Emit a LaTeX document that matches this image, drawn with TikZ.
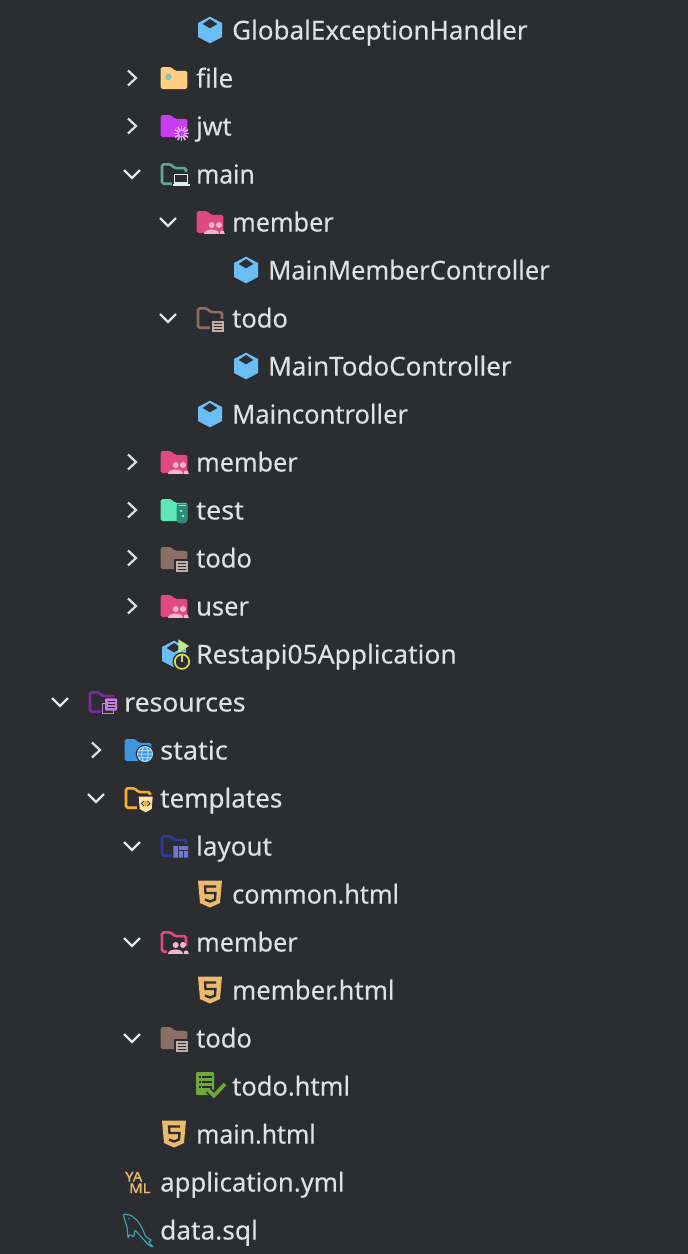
\documentclass[tikz,border=0pt]{standalone}
\usepackage{fontspec}
\setmainfont{Noto Sans}
\newfontfamily\rowfont[FakeBold=0.12]{Noto Sans}
\newfontfamily\yamlfont[FakeBold=0.9]{Noto Sans}
\definecolor{panelbg}{HTML}{2B2D30}
\definecolor{rowtxt}{HTML}{DFE1E5}
\definecolor{cubeblue}{HTML}{6BBEF5}
\definecolor{htmlgold}{HTML}{EDB96A}
\definecolor{memberpink}{HTML}{E0497F}
\definecolor{memberlight}{HTML}{F5B5CC}
\definecolor{todobrown}{HTML}{8B6F65}
\definecolor{todolight}{HTML}{BDAEA6}
\tikzset{
  rowtext/.style={anchor=base west,inner sep=0pt,text=rowtxt,transform shape,font=\fontsize{26}{30}\rowfont},
  yamltext/.style={anchor=base west,inner sep=0pt,text=htmlgold,xscale=1.1,transform shape,font=\fontsize{13.5}{14}\yamlfont},
  folderfull/.pic={
    \fill[rounded corners=1.6pt] (-13.3,-11)--(-3,-11)--(1,-7.2)--(13.3,-7.2)--(13.3,11)--(-13.3,11)--cycle;},
  folderline/.pic={
    \draw[line width=2.6pt,rounded corners=1.6pt] (-12,-9.7)--(-3.4,-9.7)--(0.6,-5.9)--(12,-5.9)--(12,9.7)--(-12,9.7)--cycle;},
  people/.pic={
    \fill[memberlight] (1.7,3) circle (3) (9,3) circle (3);
    \fill[memberlight] (-6,11.8) .. controls (-6,5.5) and (8.8,5.5) .. (8.8,11.8) -- cycle;
    \fill[memberlight] (9.5,11.8) .. controls (9.5,7.5) and (14.5,7) .. (14.8,11.8) -- cycle;},
  notes/.pic={
    \fill[panelbg] (0.4,1.4) rectangle (15,15);
    \fill[todolight] (1.7,2.7) rectangle (14,14.3);
    \foreach \i in {5.2,8.4,11.6} \draw[panelbg,line width=1.2pt] (4,\i)--(11.8,\i);},
  cube/.pic={
    \fill[cubeblue] (0,-13.3)--(12,-7)--(12,7)--(0,13.3)--(-12,7)--(-12,-7)--cycle;
    \fill[panelbg] (0,-11)--(7.3,-6)--(0,-1.7)--(-7.3,-6)--cycle;},
  shield/.pic={
    \fill[htmlgold] (-12,-13.5)--(12,-13.5)--(10,9)--(0,13.5)--(-10,9)--cycle;
    \draw[panelbg,line width=2.3pt] (6,-7.5)--(-5,-7.5)--(-4.5,-1)--(5.5,-1)--(5,5.5)--(0,7.5)--(-5,5.5);},
}
\begin{document}
\begin{tikzpicture}[x=1pt,y=-1pt]
\useasboundingbox (0,0) rectangle (688,1254);
\fill[panelbg] (0,0) rectangle (688,1254);
\foreach \x/\y in {132/78,132/126,132/462,132/510,132/558,132/606,96/750}
  \draw[rowtxt,line width=2.2pt] (\x-4,\y-7.5)--(\x+4,\y)--(\x-4,\y+7.5);
\foreach \x/\y in {132/174,168/222,168/318,60/702,96/798,132/846,132/942,132/1038}
  \draw[rowtxt,line width=2.2pt] (\x-8,\y-4)--(\x,\y+4)--(\x+8,\y-4);
\pic at (210,30) {cube};
\pic at (246,270) {cube};
\pic at (246,366) {cube};
\pic at (210,414) {cube};
\pic at (174,654) {cube};
\pic at (210,894) {shield};
\pic at (210,990) {shield};
\pic at (174,1134) {shield};
\pic[color=memberpink] at (210,222) {folderfull};
\pic at (210,222) {people};
\pic[color=memberpink] at (174,462) {folderfull};
\pic at (174,462) {people};
\pic[color=memberpink] at (174,606) {folderfull};
\pic at (174,606) {people};
\pic[color=memberpink] at (174,942) {folderline};
\fill[panelbg] (167,946) rectangle (190,954.5);
\pic at (174,942) {people};
\pic[color=todobrown] at (210,318) {folderline};
\pic at (210,318) {notes};
\pic[color=todobrown] at (174,558) {folderfull};
\pic at (174,558) {notes};
\pic[color=todobrown] at (174,1038) {folderfull};
\pic at (174,1038) {notes};
% file
\pic[color={rgb,255:red,255;green,207;blue,127}] at (174,78) {folderfull};
\fill[color={rgb,255:red,127;green,196;blue,190}] (168.5,77) circle (3.2);
% jwt
\pic[color={rgb,255:red,200;green,60;blue,242}] at (174,126) {folderfull};
\foreach \a in {0,30,...,330} \draw[line width=1.6pt,color={rgb,255:red,233;green,179;blue,245}] (181.5,133.5)++(\a:2.5)--++(\a:5);
\fill[color={rgb,255:red,200;green,60;blue,242}] (181.5,133.5) circle (2.3);
% main
\pic[color={rgb,255:red,95;green,167;blue,158}] at (174,174) {folderline};
\fill[panelbg] (172,172) rectangle (191,190);
\draw[line width=1.1pt,color={rgb,255:red,223;green,242;blue,238}] (174.5,174.5) rectangle (187.5,183);
\fill[color={rgb,255:red,223;green,242;blue,238}] (172.5,184) rectangle (190,186);
% test
\pic[color={rgb,255:red,94;green,232;blue,181}] at (174,510) {folderfull};
\fill[color={rgb,255:red,46;green,140;blue,120},rounded corners=3.5pt] (176.7,503.5)--(187.3,503.5)--(187.3,523.3)--(176.7,523.3)--cycle;
\fill[color={rgb,255:red,46;green,140;blue,120}] (176.7,503.5) rectangle (187.3,507);
\fill[color={rgb,255:red,150;green,240;blue,205}] (178.5,505) rectangle (185.5,506.2);
\fill[color={rgb,255:red,150;green,240;blue,205}] (181,511) circle (1.3) (183,516) circle (1.3);
% restapi badges
\fill[color={rgb,255:red,201;green,232;blue,142}] (178.3,639.3)--(189,646)--(178.3,652.7)--cycle;
\fill[panelbg] (182,661.7) circle (9.5);
\draw[line width=1.7pt,color={rgb,255:red,214;green,222;blue,76}] (182,661.7) circle (7.2);
\draw[line width=1.7pt,color={rgb,255:red,214;green,222;blue,76}] (182,653.5)--(182,661.5);
% resources
\pic[color={rgb,255:red,123;green,42;blue,158}] at (102,702) {folderline};
\fill[panelbg] (100.5,697) rectangle (118,716);
\draw[line width=1pt,color={rgb,255:red,192;green,127;blue,216}] (102.5,703.5) rectangle (113.5,713.5);
\fill[color={rgb,255:red,192;green,127;blue,216},rounded corners=1pt] (105,698.3) rectangle (117,710.7);
\foreach \i in {701.5,704.5,707.5} \draw[panelbg,line width=1pt] (107.5,\i)--(114.5,\i);
% static
\pic[color={rgb,255:red,63;green,150;blue,224}] at (138,750) {folderfull};
\fill[panelbg] (145,754) circle (9.3);
\fill[color={rgb,255:red,63;green,150;blue,224}] (145,754) circle (7.5);
\draw[line width=1pt,color={rgb,255:red,168;green,216;blue,248}] (145,754) circle (7.5) (145,754) ellipse (3.2 and 7.5) (137.5,754)--(152.5,754) (138.5,750.5)--(151.5,750.5) (138.5,757.5)--(151.5,757.5);
% templates
\pic[color={rgb,255:red,245;green,176;blue,48}] at (138,798) {folderline};
\fill[panelbg] (137,795) rectangle (154.5,814);
\fill[color={rgb,255:red,255;green,227;blue,168}] (138.7,796.7)--(152.7,796.7)--(151.7,809)--(145.7,812.3)--(139.7,809)--cycle;
\fill[color={rgb,255:red,245;green,176;blue,48}] (143.5,801) rectangle (148,806);
\draw[panelbg,line width=1pt] (144,801)--(141.5,803.5)--(144,806) (147.5,801)--(150,803.5)--(147.5,806);
% layout
\pic[color={rgb,255:red,47;green,58;blue,156}] at (174,846) {folderline};
\fill[panelbg] (172,844) rectangle (190,860);
\fill[color={rgb,255:red,112;green,120;blue,208}] (173.3,846) rectangle (178,857.7) (179,846) rectangle (188,850) (179,851) rectangle (183,857.7) (184,851) rectangle (188,857.7);
% todo.html
\fill[color={rgb,255:red,110;green,168;blue,58},rounded corners=1pt] (196,1072) rectangle (214,1095);
\foreach \i in {1077,1082,1087} {\draw[panelbg,line width=1.2pt] (198.5,\i)--(200.5,\i); \draw[panelbg,line width=1.2pt] (202,\i)--(211.5,\i);}
\draw[panelbg,line width=7pt] (208.3,1090)--(214,1095.7)--(225,1084);
\draw[line width=3.6pt,color={rgb,255:red,110;green,168;blue,58}] (208.3,1090)--(214,1095.7)--(225,1084);
% yaml
\path (125,1181.5) node[yamltext](yamlup){YA};
\path (129,1193) node[yamltext](yamllow){ML};
% dolphin
\draw[line width=1.1pt,rounded corners=1.5pt,color={rgb,255:red,63;green,166;blue,178}] (123,1214)--(131.3,1215.3)--(138,1221.3)--(143,1229.7)--(145.3,1236.3)--(152.3,1240.7)--(148,1241.3)--(151.3,1245.3)--(154,1247.3)--(148.7,1245.3)--(145.3,1241.3)--(139.7,1235.3)--(134.7,1229.7)--(134,1237.3)--(129.7,1234)--(128,1238.7)--(127.3,1228)--(125.3,1221.3)--cycle;
\fill[color={rgb,255:red,63;green,166;blue,178}] (129,1218.7) circle (0.9);
\path
(232,39.5) node[rowtext](globalhandler){GlobalExceptionHandler}
(196,87.5) node[rowtext](fileitem){file}
(196,135.5) node[rowtext,xscale=.97](jwtitem){jwt}
(196,183.5) node[rowtext,xscale=.95](mainitem){main}
(232,231.5) node[rowtext,xscale=.97](mainmember){member}
(268,279.5) node[rowtext,xscale=.98](mainmemberctrl){MainMemberController}
(232,327.5) node[rowtext,xscale=.98](maintodo){todo}
(268,375.5) node[rowtext](maintodoctrl){MainTodoController}
(232,423.5) node[rowtext,xscale=.98](mainctrl){Maincontroller}
(196,471.5) node[rowtext,xscale=.97](memberitem){member}
(196,519.5) node[rowtext,xscale=1.04](testitem){test}
(196,567.5) node[rowtext,xscale=.98](todoitem){todo}
(196,615.5) node[rowtext,xscale=.98](useritem){user}
(196,663.5) node[rowtext,xscale=1.015](restapp){Restapi05Application}
(124,711.5) node[rowtext,xscale=1.02](resourcesitem){resources}
(160,759.5) node[rowtext,xscale=1.04](staticitem){static}
(160,807.5) node[rowtext](templatesitem){templates}
(196,855.5) node[rowtext](layoutitem){layout}
(232,903.5) node[rowtext,xscale=.97](commonhtml){common.html}
(196,951.5) node[rowtext,xscale=.97](membertpl){member}
(232,999.5) node[rowtext,xscale=.99](memberhtml){member.html}
(196,1047.5) node[rowtext,xscale=.98](todotpl){todo}
(232,1095.5) node[rowtext,xscale=.98](todohtml){todo.html}
(196,1143.5) node[rowtext,xscale=.955](mainhtml){main.html}
(160,1191.5) node[rowtext,xscale=.99](appyml){application.yml}
(160,1239.5) node[rowtext,xscale=1.01](datasql){data.sql};
\end{tikzpicture}
\end{document}
